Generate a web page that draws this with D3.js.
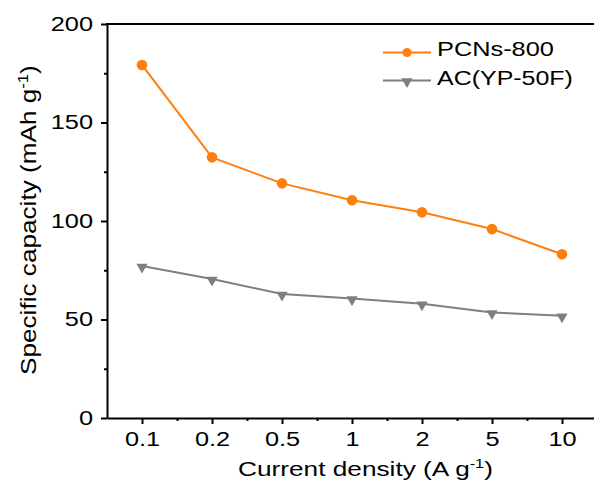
<!DOCTYPE html>
<html><head><meta charset="utf-8">
<script src="https://cdn.jsdelivr.net/npm/d3@7"></script>
<style>body{margin:0;background:#fff}svg{display:block;font-family:"Liberation Sans",Arial,sans-serif}</style>
</head><body><svg id="c" width="594" height="488"></svg>
<script>
const categories = ["0.1","0.2","0.5","1","2","5","10"];
const pcns = [179.2,132.3,119.1,110.5,104.4,95.9,83.1];
const ac = [77.2,70.6,62.9,60.6,58.0,53.6,51.9];
const yTicks = [0,50,100,150,200];
const yMinor = [25,75,125,175];
const seriesNames = ["PCNs-800","AC(YP-50F)"];
const colors = ["#ff7f0e","#7f7f7f"];

const svg = d3.select("#c");
const L = 107, R = 597, T = 24, B = 418;
const SX = 1.3; // horizontal stretch of tick text in reference
const x = d3.scaleLinear().domain([-0.5, 6.5]).range([L, R]);
const y = d3.scaleLinear().domain([0, 200]).range([B, T]);
const g = svg.append("g");

function fitWidth(sel, target, px, py, rot) {
  const w = sel.node().getComputedTextLength();
  const s = target / w;
  sel.attr("x", 0).attr("y", 0)
     .attr("transform", `translate(${px},${py})${rot ? ` rotate(${rot})` : ""} scale(${s},1)`);
}

// x axis
const xAxis = d3.axisBottom(x).tickValues(d3.range(categories.length)).tickFormat(i => categories[i]).tickSize(6).tickSizeOuter(0);
const gx = g.append("g").attr("transform", `translate(0,${B})`).call(xAxis);
gx.select(".domain").attr("stroke-width", 2).attr("stroke", "#000");
gx.selectAll(".tick line").attr("stroke-width", 2);
gx.selectAll(".tick text").attr("font-size", 19.5).attr("fill", "#000")
  .attr("y", 0).attr("dy", null).attr("transform", `translate(0,28) scale(${SX},1)`);
g.append("g").attr("transform", `translate(0,${B})`)
  .call(d3.axisBottom(x).tickValues(d3.range(categories.length).map(i => i + 0.5)).tickFormat("").tickSize(3).tickSizeOuter(0))
  .call(s => s.select(".domain").remove()).selectAll("line").attr("stroke-width", 2);

// y axis
const yAxis = d3.axisLeft(y).tickValues(yTicks).tickSize(6).tickSizeOuter(0);
const gy = g.append("g").attr("transform", `translate(${L},0)`).call(yAxis);
gy.select(".domain").attr("stroke-width", 2).attr("stroke", "#000");
gy.selectAll(".tick line").attr("stroke-width", 2);
gy.selectAll(".tick text").attr("font-size", 19.5).attr("fill", "#000")
  .attr("x", 0).attr("transform", `translate(-14,0) scale(${SX},1)`);
g.append("g").attr("transform", `translate(${L},0)`)
  .call(d3.axisLeft(y).tickValues(yMinor).tickFormat("").tickSize(3).tickSizeOuter(0))
  .call(s => s.select(".domain").remove()).selectAll("line").attr("stroke-width", 2);

// top border
g.append("line").attr("x1", L - 1).attr("x2", 594).attr("y1", y(200)).attr("y2", y(200)).attr("stroke", "#000").attr("stroke-width", 2);

// axis titles
const xt = svg.append("text").attr("font-size", 21).attr("text-anchor", "start")
  .html('Current density (A g<tspan dy="-8" font-size="13">-1</tspan><tspan dy="8">)</tspan>');
fitWidth(xt, 255, 238, 476);
const yt = svg.append("text").attr("font-size", 22).attr("text-anchor", "start")
  .html('Specific capacity (mAh g<tspan dy="-8" font-size="14">-1</tspan><tspan dy="8">)</tspan>');
fitWidth(yt, 310, 36, 375, -90);

// series
const line = d3.line().x((d, i) => x(i)).y(d => y(d));
const tri = d3.symbol().type(d3.symbolTriangle).size(55);
[pcns, ac].forEach((data, k) => {
  g.append("path").datum(data).attr("d", line).attr("fill", "none").attr("stroke", colors[k]).attr("stroke-width", 2);
  if (k === 0) {
    g.selectAll(".p0").data(data).enter().append("circle").attr("cx", (d, i) => x(i)).attr("cy", d => y(d)).attr("r", 5.3).attr("fill", colors[k]);
  } else {
    g.selectAll(".p1").data(data).enter().append("path").attr("d", tri)
      .attr("transform", (d, i) => `translate(${x(i)},${y(d) + 1}) rotate(180)`).attr("fill", colors[k]);
  }
});

// legend
const lg = svg.append("g");
const legendWidths = [117, 136];
seriesNames.forEach((n, k) => {
  const yy = 52.5 + k * 28;
  lg.append("line").attr("x1", 383).attr("x2", 431).attr("y1", yy).attr("y2", yy).attr("stroke", colors[k]).attr("stroke-width", 2);
  if (k === 0) lg.append("circle").attr("cx", 407).attr("cy", yy).attr("r", 4.5).attr("fill", colors[k]);
  else lg.append("path").attr("d", tri).attr("transform", `translate(407,${yy + 1}) rotate(180)`).attr("fill", colors[k]);
  const t = lg.append("text").attr("font-size", 21).text(n);
  fitWidth(t, legendWidths[k], 437, 56 + k * 29);
});
</script></body></html>
